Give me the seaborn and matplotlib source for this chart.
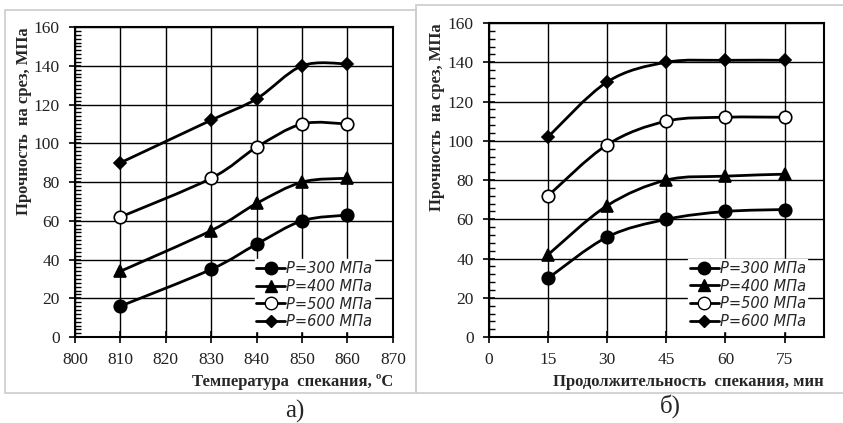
import numpy as np
import pandas as pd
import matplotlib.pyplot as plt
import seaborn as sns
from matplotlib.path import Path
from matplotlib.patches import PathPatch, Rectangle
from matplotlib.lines import Line2D
from matplotlib.ticker import MultipleLocator

# Данные: а) температура спекания
temp = [810, 830, 840, 850, 860]
temp_p300 = [16, 35, 48, 60, 63]
temp_p400 = [34, 55, 69, 80, 82]
temp_p500 = [62, 82, 98, 110, 110]
temp_p600 = [90, 112, 123, 140, 141]

# Данные: б) продолжительность спекания
time = [15, 30, 45, 60, 75]
time_p300 = [30, 51, 60, 64, 65]
time_p400 = [42, 67, 80, 82, 83]
time_p500 = [72, 98, 110, 112, 112]
time_p600 = [102, 130, 140, 141, 141]

labels = ['P=300 МПа', 'P=400 МПа', 'P=500 МПа', 'P=600 МПа']
markers = ['o', '^', 'o', 'D']
msizes = [9, 8.5, 9, 6]
faces = ['black', 'black', 'white', 'black']

sns.set_theme(style='white')
plt.rcParams['font.family'] = ['Liberation Serif', 'DejaVu Serif']


def smooth_path(x, y):
    # сглаженная линия как в Excel (кривые Безье через точки)
    x = np.asarray(x, float)
    y = np.asarray(y, float)
    px = np.concatenate([[x[0]], x, [x[-1]]])
    py = np.concatenate([[y[0]], y, [y[-1]]])
    verts = [(x[0], y[0])]
    codes = [Path.MOVETO]
    for i in range(1, len(x)):
        c1 = (px[i] + (px[i + 1] - px[i - 1]) / 6, py[i] + (py[i + 1] - py[i - 1]) / 6)
        c2 = (px[i + 1] - (px[i + 2] - px[i]) / 6, py[i + 1] - (py[i + 2] - py[i]) / 6)
        verts += [c1, c2, (px[i + 1], py[i + 1])]
        codes += [Path.CURVE4] * 3
    return Path(verts, codes)


def draw_panel(ax, x, series, xlim, xticks, xlabel, minor, leg_x, ylpad):
    for vals, m, ms, fc, lab in zip(series, markers, msizes, faces, labels):
        ax.add_patch(PathPatch(smooth_path(x, vals), facecolor='none',
                               edgecolor='black', lw=2, zorder=3))
        df = pd.DataFrame({'x': x, 'y': vals})
        sns.lineplot(data=df, x='x', y='y', ax=ax, linestyle='', marker=m,
                     markersize=ms, markerfacecolor=fc, markeredgecolor='black',
                     markeredgewidth=1.2, color='black', zorder=4)
    ax.set_xlim(*xlim)
    ax.set_ylim(0, 160)
    ax.set_xticks(xticks)
    ax.yaxis.set_major_locator(MultipleLocator(20))
    ax.yaxis.set_minor_locator(MultipleLocator(minor))
    ax.grid(True, which='major', color='black', lw=1)
    for s in ax.spines.values():
        s.set_color('black')
        s.set_linewidth(1.5)
    ax.tick_params(axis='both', which='major', direction='inout', length=8,
                   width=1.2, labelsize=12.5, color='black', labelcolor='#222222',
                   left=True, bottom=True, pad=7)
    ax.tick_params(axis='y', which='minor', direction='in', length=4, width=1,
                   color='black', left=True)
    ax.set_xlabel(xlabel, fontsize=12, fontweight='bold', loc='right', labelpad=4)
    ax.set_ylabel('Прочность  на срез, МПа', fontsize=12, fontweight='bold',
                  loc='top', labelpad=ylpad)
    handles = [Line2D([], [], color='black', lw=2, marker=m, markersize=ms,
                      markerfacecolor=fc, markeredgecolor='black')
               for m, ms, fc in zip(markers, msizes, faces)]
    leg = ax.legend(handles, labels, loc='lower right', bbox_to_anchor=(leg_x, 0.02),
                    frameon=True, fancybox=False, edgecolor='white', facecolor='white',
                    framealpha=1, handlelength=2.0, handletextpad=0.05,
                    labelspacing=0.2, borderpad=0.1, borderaxespad=0,
                    prop={'family': 'DejaVu Sans', 'style': 'italic', 'size': 10.5})
    leg.set_zorder(10)


fig = plt.figure(figsize=(8.43, 4.23), dpi=100)
fig.patch.set_facecolor('white')

# рамки вокруг панелей
fig.patches.append(Rectangle((0.006, 0.071), 0.488, 0.905, transform=fig.transFigure,
                             fill=False, edgecolor='#cccccc', lw=1.2))
fig.patches.append(Rectangle((0.494, 0.071), 0.52, 0.917, transform=fig.transFigure,
                             fill=False, edgecolor='#cccccc', lw=1.2))

ax1 = fig.add_axes([0.089, 0.203, 0.377, 0.733])
draw_panel(ax1, temp, [temp_p300, temp_p400, temp_p500, temp_p600],
           (800, 870), range(800, 871, 10), 'Температура  спекания, ºС', 2, 0.94, 1)

ax2 = fig.add_axes([0.580, 0.203, 0.3975, 0.7426])
draw_panel(ax2, time, [time_p300, time_p400, time_p500, time_p600],
           (0, 85), [0, 15, 30, 45, 60, 75], 'Продолжительность  спекания, мин', 4, 0.95, 2)

fig.text(0.350, 0.028, 'а)', fontsize=18, ha='center', va='center')
fig.text(0.795, 0.040, 'б)', fontsize=18, ha='center', va='center')

plt.savefig('out.png', dpi=100)
